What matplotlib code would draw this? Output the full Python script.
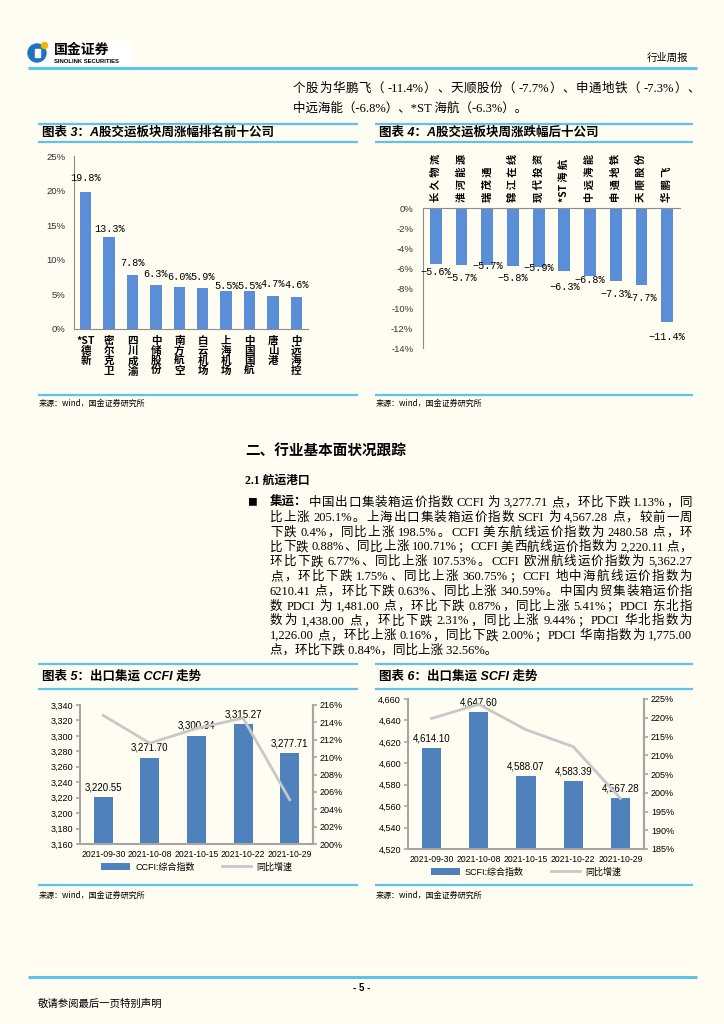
import re
import matplotlib
matplotlib.use("Agg")
import matplotlib.pyplot as plt
import matplotlib.ticker as mticker
from matplotlib.patches import Circle, Rectangle

W, H = 724, 1024
BG = "#FFFCF1"
RULE = "#5BC3EE"
SANS = ["Liberation Sans", "Noto Sans CJK SC"]
CJK = ["Noto Sans CJK SC", "DejaVu Sans"]
SERIF = ["Liberation Serif", "Noto Sans CJK SC"]
MONO = ["Liberation Mono", "Noto Sans CJK SC"]

plt.rcParams["font.family"] = SANS
plt.rcParams["axes.unicode_minus"] = False

# ---------------- data ----------------
top_names = ["*ST德新", "密尔克卫", "四川成渝", "中储股份", "南方航空",
             "白云机场", "上海机场", "中国国航", "唐山港", "中远海控"]
top_pct = [19.8, 13.3, 7.8, 6.3, 6.0, 5.9, 5.5, 5.5, 4.7, 4.6]

bottom_names = ["长久物流", "淮河能源", "瑞茂通", "锦江在线", "现代投资",
                "*ST海航", "中远海能", "申通地铁", "天顺股份", "华鹏飞"]
bottom_pct = [-5.6, -5.7, -5.7, -5.8, -5.9, -6.3, -6.8, -7.3, -7.7, -11.4]

weeks = ["2021-09-30", "2021-10-08", "2021-10-15", "2021-10-22", "2021-10-29"]
ccfi = [3220.55, 3271.70, 3300.34, 3315.27, 3277.71]
ccfi_yoy = [214.8, 211.6, 213.3, 214.5, 205.1]
scfi = [4614.10, 4647.60, 4588.07, 4583.39, 4567.28]
scfi_yoy = [219.8, 223.6, 216.8, 212.3, 198.5]

# label offsets (pixels) as laid out in the source document
top_label_dy = [14, 8, 12, 11, 10, 11, 5, 5, 12, 12]
bottom_label_dy = [8, 13, 1, 12, 1, 16, 4, 13, 13, 15]

intro_lines = ["个股为华鹏飞（ -11.4%）、天顺股份（ -7.7%）、申通地铁（ -7.3%）、",
               "中远海能（-6.8%）、*ST 海航（-6.3%）。"]
para_lines = [
    "中国出口集装箱运价指数 CCFI 为 3,277.71 点，环比下跌 1.13%，同",
    "比上涨 205.1%。上海出口集装箱运价指数 SCFI 为 4,567.28 点，较前一周",
    "下跌 0.4%，同比上涨 198.5%。CCFI 美东航线运价指数为 2480.58 点，环",
    "比下跌 0.88%、同比上涨 100.71%；CCFI 美西航线运价指数为 2,220.11 点，",
    "环比下跌 6.77%、同比上涨 107.53%。CCFI 欧洲航线运价指数为 5,362.27",
    "点，环比下跌 1.75%、同比上涨 360.75%；CCFI 地中海航线运价指数为",
    "6210.41 点，环比下跌 0.63%、同比上涨 340.59%。中国内贸集装箱运价指",
    "数 PDCI 为 1,481.00 点，环比下跌 0.87%，同比上涨 5.41%；PDCI 东北指",
    "数为 1,438.00 点，环比下跌 2.31%，同比上涨 9.44%；PDCI 华北指数为",
    "1,226.00 点，环比上涨 0.16%，同比下跌 2.00%；PDCI 华南指数为 1,775.00",
    "点，环比下跌 0.84%，同比上涨 32.56%。",
]


def rect(x0, y0, x1, y1):
    return [x0 / W, 1 - y1 / H, (x1 - x0) / W, (y1 - y0) / H]


fig = plt.figure(figsize=(W / 100, H / 100), dpi=100, facecolor=BG)
renderer = fig.canvas.get_renderer()

# page layer in pixel coordinates
page = fig.add_axes([0, 0, 1, 1])
page.set_xlim(0, W)
page.set_ylim(H, 0)
page.axis("off")
page.patch.set_alpha(0)


def hline(y, x0, x1, lw=1.6):
    page.plot([x0, x1], [y, y], color=RULE, lw=lw, solid_capstyle="butt")


def text_width(s, **kw):
    t = page.text(0, 0, s, **kw)
    w = t.get_window_extent(renderer=renderer).width
    t.remove()
    return w


def justified(line, x0, x1, y, fs, family=SERIF, space=2.0):
    toks = re.findall(r"\s+|[A-Za-z0-9.,%*\-]+|[^\sA-Za-z0-9.,%*\-]", line)
    ws = [space if t.isspace() else text_width(t, fontsize=fs, family=family) for t in toks]
    gap = (x1 - x0 - sum(ws)) / (len(toks) - 1)
    x = x0
    for t, w in zip(toks, ws):
        if not t.isspace():
            page.text(x, y, t, fontsize=fs, family=family, ha="left", va="baseline")
        x += w + gap


# header / logo
page.add_patch(Rectangle((28, 40), 102, 26, color="white", zorder=1))
page.add_patch(Circle((37, 53), 9, color="#1E73BE", zorder=2))
page.add_patch(Rectangle((34.5, 49), 5, 8, color="white", zorder=3))
page.add_patch(Circle((44.5, 45.5), 3, color="#F4B400", zorder=4))
page.text(54, 50, "国金证券", fontsize=10, weight="bold", family=CJK, va="center", zorder=5)
page.text(54, 61.5, "SINOLINK SECURITIES", fontsize=4.2, weight="bold",
          family=["Liberation Sans"], va="center", zorder=5)
page.text(688, 58, "行业周报", fontsize=7.5, family=CJK, ha="right", va="center")
hline(68, 28, 697, lw=2.2)

# intro text
justified(intro_lines[0], 293, 700, 92, 9)
page.text(293, 112, intro_lines[1], fontsize=9, family=SERIF, va="baseline")

# chart frames and titles
frames = [
    (38, 358, 124, 142, 395, "图表 3：A股交运板块周涨幅排名前十公司", 403),
    (375, 693, 124, 142, 395, "图表 4：A股交运板块周涨跌幅后十公司", 403),
    (38, 358, 664, 689, 885, "图表 5：出口集运 CCFI 走势", 895),
    (375, 693, 664, 689, 885, "图表 6：出口集运 SCFI 走势", 895),
]
for x0, x1, yt, yl, yb, title, ys in frames:
    hline(yt, x0, x1)
    hline(yl, x0, x1)
    hline(yb, x0, x1)
    page.text(x0 + 4, (yt + yl) / 2, title, fontsize=9, weight="bold", style="italic",
              family=SANS, va="center")
    page.text(x0 + 1, ys, "来源：wind，国金证券研究所", fontsize=5.8, family=CJK, va="center")

# section text
page.text(245, 451, "二、行业基本面状况跟踪", fontsize=10.5, weight="bold", family=CJK, va="center")
page.text(245, 481, "2.1 航运港口", fontsize=8.5, weight="bold", family=SERIF, va="center")
page.text(252, 502, "■", fontsize=7, family=CJK, va="center", ha="center")
lead = "集运："
page.text(270, 506, lead, fontsize=9, weight="bold", family=CJK, va="baseline")
lead_w = text_width(lead, fontsize=9, weight="bold", family=CJK)
for i, line in enumerate(para_lines):
    yb = 506 + i * 14.8
    if i == len(para_lines) - 1:
        page.text(270, yb, line, fontsize=9, family=SERIF, va="baseline")
    elif i == 0:
        justified(line, 270 + lead_w + 1, 692, yb, 9)
    else:
        justified(line, 270, 692, yb, 9)

# footer
hline(977, 28, 697, lw=2.2)
page.text(362, 988, "- 5 -", fontsize=7, weight="bold", ha="center", va="center")
page.text(38, 1004, "敬请参阅最后一页特别声明", fontsize=7.5, family=CJK, va="center")

pct_fmt = mticker.FuncFormatter(lambda v, p: f"{v:.0f}%")
comma_fmt = mticker.FuncFormatter(lambda v, p: f"{v:,.0f}")

# ---------------- chart 3 ----------------
ax3 = fig.add_axes(rect(74, 156, 308, 329))
ax3.patch.set_alpha(0)
x3 = list(range(len(top_names)))
ax3.bar(x3, top_pct, width=0.48, color="#5A8FD8")
ax3.set_xlim(-0.5, 9.5)
ax3.set_ylim(0, 25)
ax3.set_yticks(range(0, 26, 5))
ax3.yaxis.set_major_formatter(pct_fmt)
ax3.set_xticks([])
ax3.tick_params(axis="y", length=0, labelsize=6.8, pad=6, labelcolor="#333333")
for s in ["top", "right"]:
    ax3.spines[s].set_visible(False)
for s in ["left", "bottom"]:
    ax3.spines[s].set_color("#8C8C8C")
    ax3.spines[s].set_linewidth(0.8)
for i, (v, dy) in enumerate(zip(top_pct, top_label_dy)):
    ax3.annotate(f"{v:.1f}%", (i, v), xytext=(0, dy), textcoords="offset pixels",
                 ha="center", va="center", fontsize=7.3, family=MONO)
for i, name in enumerate(top_names):
    parts = re.findall(r"[\x21-\x7e]+|.", name)
    ax3.text(i, -0.04, "\n".join(parts), transform=ax3.get_xaxis_transform(),
             ha="center", va="top", fontsize=7.6, family=CJK, weight="bold",
             linespacing=1.0)

# ---------------- chart 4 ----------------
ax4 = fig.add_axes(rect(423, 208, 680, 348))
ax4.patch.set_alpha(0)
x4 = list(range(len(bottom_names)))
ax4.bar(x4, bottom_pct, width=0.46, color="#5A8FD8")
ax4.set_xlim(-0.5, 9.5)
ax4.set_ylim(-14, 0)
ax4.set_yticks(range(-14, 1, 2))
ax4.yaxis.set_major_formatter(pct_fmt)
ax4.set_xticks([])
ax4.tick_params(axis="y", length=0, labelsize=6.8, pad=7, labelcolor="#333333")
for s in ["bottom", "right"]:
    ax4.spines[s].set_visible(False)
for s in ["left", "top"]:
    ax4.spines[s].set_color("#8C8C8C")
    ax4.spines[s].set_linewidth(0.8)
for i, (v, dy) in enumerate(zip(bottom_pct, bottom_label_dy)):
    ax4.annotate(f"{v:.1f}%".replace("-", "−"), (i, v), xytext=(0, -dy),
                 textcoords="offset pixels", ha="center", va="center",
                 fontsize=7.3, family=MONO)
for i, name in enumerate(bottom_names):
    spaced = " ".join(re.findall(r"[\x21-\x7e]+|.", name))
    ax4.text(i, 1.043, spaced, transform=ax4.get_xaxis_transform(), rotation=90,
             ha="center", va="bottom", fontsize=7.4, family=CJK, weight="bold")


# ---------------- charts 5 and 6 ----------------
def index_chart(box, values, yoy, lo, hi, step, rlo, rhi, rstep, name, leg_y):
    ax = fig.add_axes(rect(*box))
    ax.patch.set_alpha(0)
    xs = list(range(len(weeks)))
    bars = ax.bar(xs, values, width=0.41, color="#4F81BD", label=name, zorder=2)
    ax.set_xlim(-0.5, len(weeks) - 0.5)
    ax.set_ylim(lo, hi)
    ax.set_yticks(range(lo, hi + 1, step))
    ax.yaxis.set_major_formatter(comma_fmt)
    ax.set_xticks(xs)
    ax.set_xticklabels(weeks)
    ax.tick_params(axis="x", length=0, labelsize=6.2, pad=4)
    ax.tick_params(axis="y", length=3, labelsize=6.5, color="#A6A6A6", width=1.2, pad=2)
    ax.spines["top"].set_visible(False)
    for s in ["left", "right", "bottom"]:
        ax.spines[s].set_color("#A6A6A6")
        ax.spines[s].set_linewidth(1.5)
    for x, v in zip(xs, values):
        ax.annotate(f"{v:,.2f}", (x, v), xytext=(0, 10), textcoords="offset pixels",
                    ha="center", va="center", fontsize=7)
    ax2 = ax.twinx()
    line, = ax2.plot(xs, yoy, color="#C8C8C8", lw=2, label="同比增速")
    ax2.set_ylim(rlo, rhi)
    ax2.set_yticks(range(rlo, rhi + 1, rstep))
    ax2.yaxis.set_major_formatter(pct_fmt)
    ax2.tick_params(axis="y", length=3, labelsize=6.5, color="#A6A6A6", width=1.2, pad=2)
    for s in ["top", "left", "bottom"]:
        ax2.spines[s].set_visible(False)
    ax2.spines["right"].set_color("#A6A6A6")
    ax2.spines["right"].set_linewidth(1.5)
    ax.legend(handles=[bars, line], loc="center", bbox_to_anchor=(0.5, leg_y), ncol=2,
              frameon=False, fontsize=6.5, handlelength=3.2, handleheight=0.7,
              columnspacing=3.0, handletextpad=0.6)


index_chart((80, 705, 313, 844), ccfi, ccfi_yoy, 3160, 3340, 20, 200, 216, 2,
            "CCFI:综合指数", -0.165)
index_chart((408, 699, 644, 849), scfi, scfi_yoy, 4520, 4660, 20, 185, 225, 5,
            "SCFI:综合指数", -0.153)

fig.savefig("out.png", dpi=100, facecolor=BG)
